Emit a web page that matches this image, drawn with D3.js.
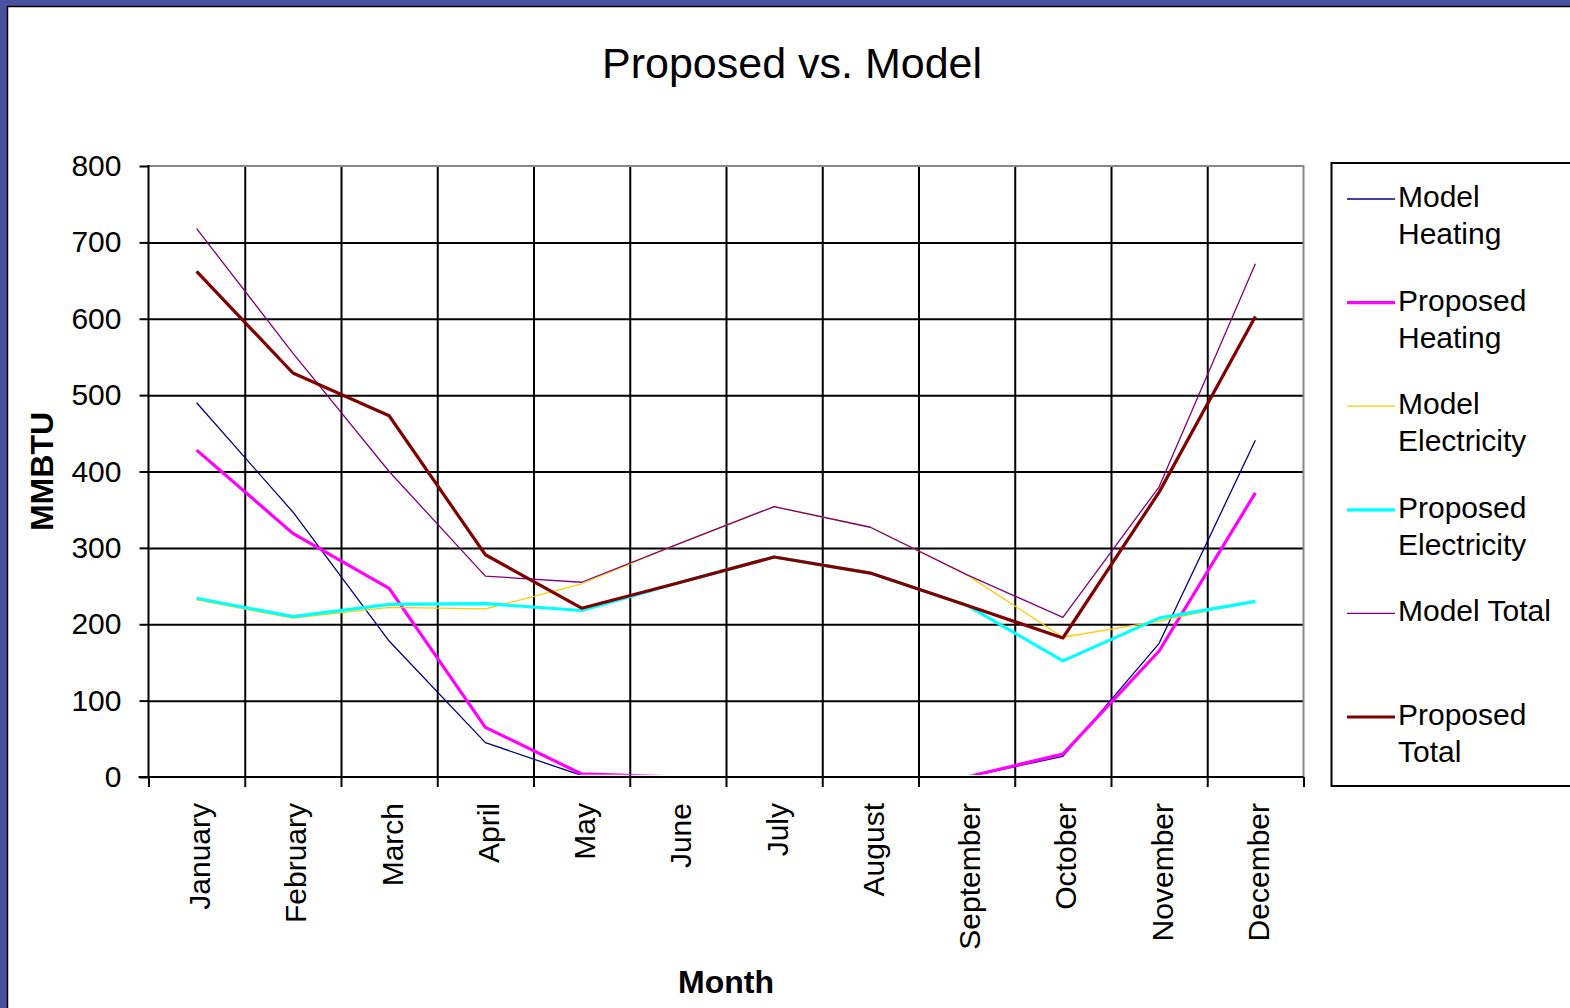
<!doctype html>
<meta charset="utf-8">
<title>Proposed vs. Model</title>
<script src="https://cdn.jsdelivr.net/npm/d3@7/dist/d3.min.js"></script>
<style>
  body { margin: 0; background: #fff; }
  svg { display: block; font-family: "Liberation Sans", Arial, sans-serif; }
</style>

<svg id="chart" width="1570" height="1008"></svg>

<script>
  // data (MMBTU per month)
  const months = ['January', 'February', 'March', 'April', 'May', 'June',
    'July', 'August', 'September', 'October', 'November', 'December']
  const modelHeating = [490, 347, 178, 45, 2, 0, 0, 0, 0, 27, 175, 441]
  const proposedHeating = [428, 319, 247, 65, 4, 0, 0, 0, 0, 30, 165, 372]
  const modelElectricity = [232, 208, 222, 220, 253, 305, 354, 327, 265, 183, 204, 231]
  const proposedElectricity = [234, 210, 226, 227, 218, 254, 288, 267, 225, 152, 208, 230]
  const modelTotal = [718, 555, 400, 263, 255, 305, 354, 327, 265, 209, 380, 672]
  const proposedTotal = [662, 529, 473, 291, 221, 254, 288, 267, 225, 182, 373, 603]
  const yTicks = [0, 100, 200, 300, 400, 500, 600, 700, 800]

  const series = [
    { label: ['Model', 'Heating'], values: modelHeating, color: '#000080', width: 1.3 },
    { label: ['Proposed', 'Heating'], values: proposedHeating, color: '#ff00ff', width: 3.2 },
    { label: ['Model', 'Electricity'], values: modelElectricity, color: '#ffcc00', width: 1.3 },
    { label: ['Proposed', 'Electricity'], values: proposedElectricity, color: '#00ffff', width: 3.2 },
    { label: ['Model Total'], values: modelTotal, color: '#800080', width: 1.3 },
    { label: ['Proposed', 'Total'], values: proposedTotal, color: '#800000', width: 3.2 },
  ]

  const plot = { left: 148.5, right: 1303.5, top: 166, bottom: 777 }
  const svg = d3.select('#chart')

  // blue frame round the chart area
  svg.append('rect').attr('width', 1570).attr('height', 1008).attr('fill', '#4a529f')
  svg.append('rect')
    .attr('x', 7.5).attr('y', 6.5).attr('width', 1600).attr('height', 1100)
    .attr('fill', '#fff').attr('stroke', '#000').attr('stroke-width', 1.5)

  const x = d3.scaleBand().domain(months).range([plot.left, plot.right])
  const xEdge = d3.scaleLinear().domain([0, months.length]).range([plot.left, plot.right])
  const y = d3.scaleLinear().domain([0, 800]).range([plot.bottom, plot.top])
  const cx = (m) => x(m) + x.bandwidth() / 2

  // grid
  const grid = svg.append('g')
  grid.append('g')
    .attr('transform', `translate(${plot.left},0)`)
    .call(d3.axisLeft(y).tickValues(yTicks.slice(1, -1)).tickSize(-(plot.right - plot.left)).tickFormat(''))
  grid.append('g')
    .attr('transform', `translate(0,${plot.top})`)
    .call(d3.axisBottom(xEdge).tickValues(d3.range(1, months.length)).tickSize(plot.bottom - plot.top).tickFormat(''))
  grid.selectAll('.domain').remove()
  grid.selectAll('line').attr('stroke', '#000').attr('stroke-width', 2)

  // plot border (top / right are grey)
  svg.append('path')
    .attr('d', `M${plot.left},${plot.top}H${plot.right}V${plot.bottom}`)
    .attr('fill', 'none').attr('stroke', '#888').attr('stroke-width', 2)

  // series, clipped just above the axis so zero runs hide behind it
  svg.append('clipPath').attr('id', 'plot-clip')
    .append('rect')
    .attr('x', plot.left).attr('y', plot.top)
    .attr('width', plot.right - plot.left).attr('height', plot.bottom - plot.top - 2.2)

  const line = d3.line().x((d, i) => cx(months[i])).y((d) => y(d))
  svg.append('g').attr('clip-path', 'url(#plot-clip)')
    .selectAll('path')
    .data(series)
    .join('path')
    .attr('d', (s) => line(s.values))
    .attr('fill', 'none')
    .attr('stroke', (s) => s.color)
    .attr('stroke-width', (s) => s.width)
    .attr('stroke-linejoin', 'round')

  // y axis
  const yAxis = svg.append('g')
    .attr('transform', `translate(${plot.left},0)`)
    .call(d3.axisLeft(y).tickValues(yTicks).tickSize(9).tickPadding(18))
  yAxis.select('.domain').remove()
  yAxis.selectAll('line').attr('stroke', '#000').attr('stroke-width', 2)
  yAxis.selectAll('text').attr('font-size', 30).attr('fill', '#000').attr('font-family', null)
  svg.append('line')
    .attr('x1', plot.left).attr('x2', plot.left).attr('y1', plot.top - 1).attr('y2', plot.bottom)
    .attr('stroke', '#000').attr('stroke-width', 2)

  // x axis: ticks on the category edges, labels on the centres
  const xTicks = svg.append('g')
    .attr('transform', `translate(0,${plot.bottom})`)
    .call(d3.axisBottom(xEdge).tickValues(d3.range(0, months.length + 1)).tickSize(10).tickFormat(''))
  xTicks.select('.domain').remove()
  xTicks.selectAll('line').attr('stroke', '#000').attr('stroke-width', 2)
  svg.append('line')
    .attr('x1', plot.left - 10).attr('x2', plot.right).attr('y1', plot.bottom).attr('y2', plot.bottom)
    .attr('stroke', '#000').attr('stroke-width', 2)

  const xLabels = svg.append('g')
    .attr('transform', `translate(0,${plot.bottom})`)
    .call(d3.axisBottom(x).tickSize(0))
  xLabels.select('.domain').remove()
  xLabels.selectAll('text')
    .attr('transform', 'rotate(-90)')
    .attr('x', -26).attr('y', 0).attr('dy', '0.45em')
    .attr('font-size', 30).attr('fill', '#000').attr('font-family', null)
    .style('text-anchor', 'end')

  // titles
  svg.append('text')
    .attr('x', 792).attr('y', 78)
    .attr('text-anchor', 'middle').attr('font-size', 43)
    .text('Proposed vs. Model')
  svg.append('text')
    .attr('x', (plot.left + plot.right) / 2).attr('y', 993)
    .attr('text-anchor', 'middle').attr('font-size', 32).attr('font-weight', 'bold')
    .text('Month')
  svg.append('text')
    .attr('transform', `translate(53,${(plot.top + plot.bottom) / 2}) rotate(-90)`)
    .attr('text-anchor', 'middle').attr('font-size', 32).attr('font-weight', 'bold')
    .text('MMBTU')

  // legend
  const legend = svg.append('g')
  legend.append('rect')
    .attr('x', 1331.5).attr('y', 163).attr('width', 400).attr('height', 623)
    .attr('fill', '#fff').attr('stroke', '#000').attr('stroke-width', 2)

  const entry = legend.selectAll('g.entry')
    .data(series)
    .join('g')
    .attr('class', 'entry')
    .attr('transform', (d, i) => `translate(0,${199 + i * 103.6})`)
  entry.append('line')
    .attr('x1', 1347).attr('x2', 1395)
    .attr('stroke', (s) => s.color).attr('stroke-width', (s) => s.width)
  entry.append('text')
    .attr('font-size', 30)
    .selectAll('tspan')
    .data((s) => s.label)
    .join('tspan')
    .attr('x', 1398)
    .attr('y', (d, i) => 8 + i * 37)
    .text((d) => d)
</script>
